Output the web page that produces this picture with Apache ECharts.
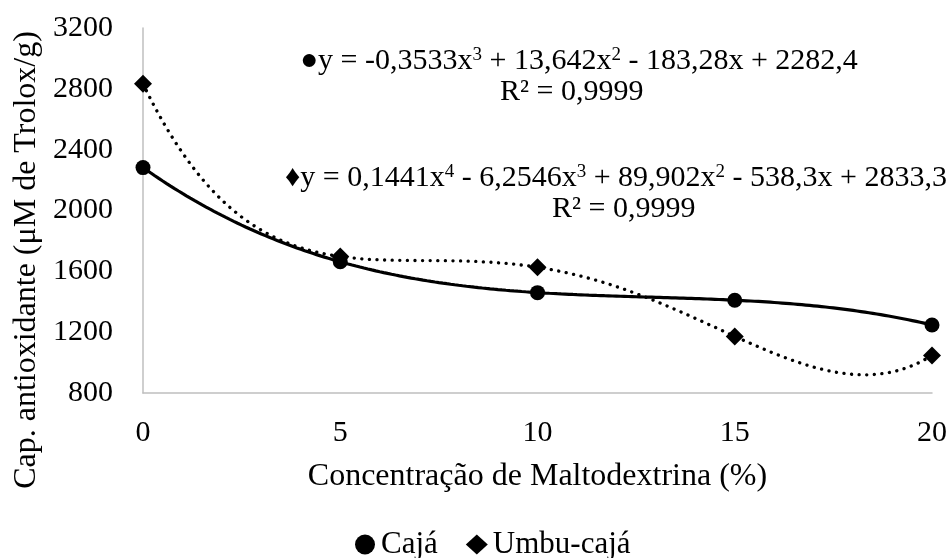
<!DOCTYPE html>
<html>
<head>
<meta charset="utf-8">
<script src="https://cdn.jsdelivr.net/npm/echarts@6/dist/echarts.min.js"></script>
<style>html,body{margin:0;padding:0;background:#fff}#c{width:952px;height:558px}</style>
</head>
<body>
<div id="c"></div>
<script>
// Data
const concentrations = [0, 5, 10, 15, 20];
const cajaValues = [2282, 1663, 1460, 1410, 1247];
const umbuValues = [2833, 1698, 1627, 1172, 1047];
const yTicks = [800, 1200, 1600, 2000, 2400, 2800, 3200];
const xTicks = [0, 5, 10, 15, 20];
// Trendline coefficients shown on the chart (highest power first)
const cajaCoef = [-0.3533, 13.642, -183.28, 2282.4];
const umbuCoef = [0.1441, -6.2546, 89.902, -538.3, 2833.3];
const cajaEq = '●y = -0,3533x{s|3} + 13,642x{s|2} - 183,28x + 2282,4';
const umbuEq = '♦y = 0,1441x{s|4} - 6,2546x{s|3} + 89,902x{s|2} - 538,3x + 2833,3';
const r2Text = 'R² = 0,9999';
const yTitle = 'Cap. antioxidante (μM de Trolox/g)';
const xTitle = 'Concentração de Maltodextrina (%)';

function poly(coef, x) { return coef.reduce((a, c) => a * x + c, 0); }
function trend(coef) {
  const pts = [];
  for (let i = 0; i <= 200; i++) { const x = i * 0.1; pts.push([x, poly(coef, x)]); }
  return pts;
}

const FONT = '"Liberation Serif", "Times New Roman", serif';
const FS = 30;
const eqRich = { s: { fontFamily: FONT, fontSize: 19, fill: '#000', verticalAlign: 'top' } };
const chart = echarts.init(document.getElementById('c'));
chart.setOption({
  animation: false,
  backgroundColor: '#fff',
  grid: { left: 143, right: 20, top: 28, bottom: 165, containLabel: false, outerBoundsMode: 'none' },
  xAxis: {
    type: 'value', min: xTicks[0], max: xTicks[xTicks.length - 1], interval: 5,
    name: xTitle, nameLocation: 'middle', nameGap: 68,
    nameTextStyle: { fontFamily: FONT, fontSize: 32, color: '#000' },
    axisLine: { show: true, lineStyle: { color: '#BFBFBF', width: 1.5 } },
    axisTick: { show: false }, splitLine: { show: false },
    axisLabel: { fontFamily: FONT, fontSize: FS, color: '#000', margin: 25 }
  },
  yAxis: {
    type: 'value', min: yTicks[0], max: yTicks[yTicks.length - 1], interval: 400,
    axisLine: { show: true, lineStyle: { color: '#BFBFBF', width: 1.5 } },
    axisTick: { show: false }, splitLine: { show: false },
    axisLabel: { fontFamily: FONT, fontSize: FS, color: '#000', margin: 30, formatter: v => String(v) }
  },
  legend: {
    top: 524, left: 350, itemGap: 28, itemWidth: 22, itemHeight: 20,
    textStyle: { fontFamily: FONT, fontSize: 31, color: '#000' },
    data: [{ name: 'Cajá', icon: 'circle' }, { name: 'Umbu-cajá', icon: 'diamond' }]
  },
  graphic: [
    { type: 'text', x: 27, y: 260, rotation: Math.PI / 2, style: { text: yTitle, fontFamily: FONT, fontSize: 32, fill: '#000', align: 'center', verticalAlign: 'middle' } },
    { type: 'text', x: 300, y: 61, style: { text: cajaEq, fontFamily: FONT, fontSize: FS, fill: '#000', verticalAlign: 'middle', rich: eqRich } },
    { type: 'text', x: 500, y: 92, style: { text: r2Text, fontFamily: FONT, fontSize: FS, fill: '#000', verticalAlign: 'middle' } },
    { type: 'text', x: 947, y: 178, style: { text: umbuEq, fontFamily: FONT, fontSize: FS, fill: '#000', align: 'right', verticalAlign: 'middle', rich: eqRich } },
    { type: 'text', x: 552, y: 209, style: { text: r2Text, fontFamily: FONT, fontSize: FS, fill: '#000', verticalAlign: 'middle' } }
  ],
  series: [
    { name: 'trend-caja', type: 'line', data: trend(cajaCoef), showSymbol: false, symbol: 'none',
      lineStyle: { color: '#000', width: 3.2 }, z: 2, silent: true },
    { name: 'trend-umbu', type: 'line', data: trend(umbuCoef), showSymbol: false, symbol: 'none',
      lineStyle: { color: '#000', width: 3.3, type: [0.1, 7.5], cap: 'round' }, z: 2, silent: true },
    { name: 'Cajá', type: 'scatter', symbol: 'circle', symbolSize: 15,
      itemStyle: { color: '#000', opacity: 1 }, z: 3,
      data: concentrations.map((x, i) => [x, cajaValues[i]]) },
    { name: 'Umbu-cajá', type: 'scatter', symbol: 'diamond', symbolSize: 18,
      itemStyle: { color: '#000', opacity: 1 }, z: 3,
      data: concentrations.map((x, i) => [x, umbuValues[i]]) }
  ]
});
</script>
</body>
</html>
